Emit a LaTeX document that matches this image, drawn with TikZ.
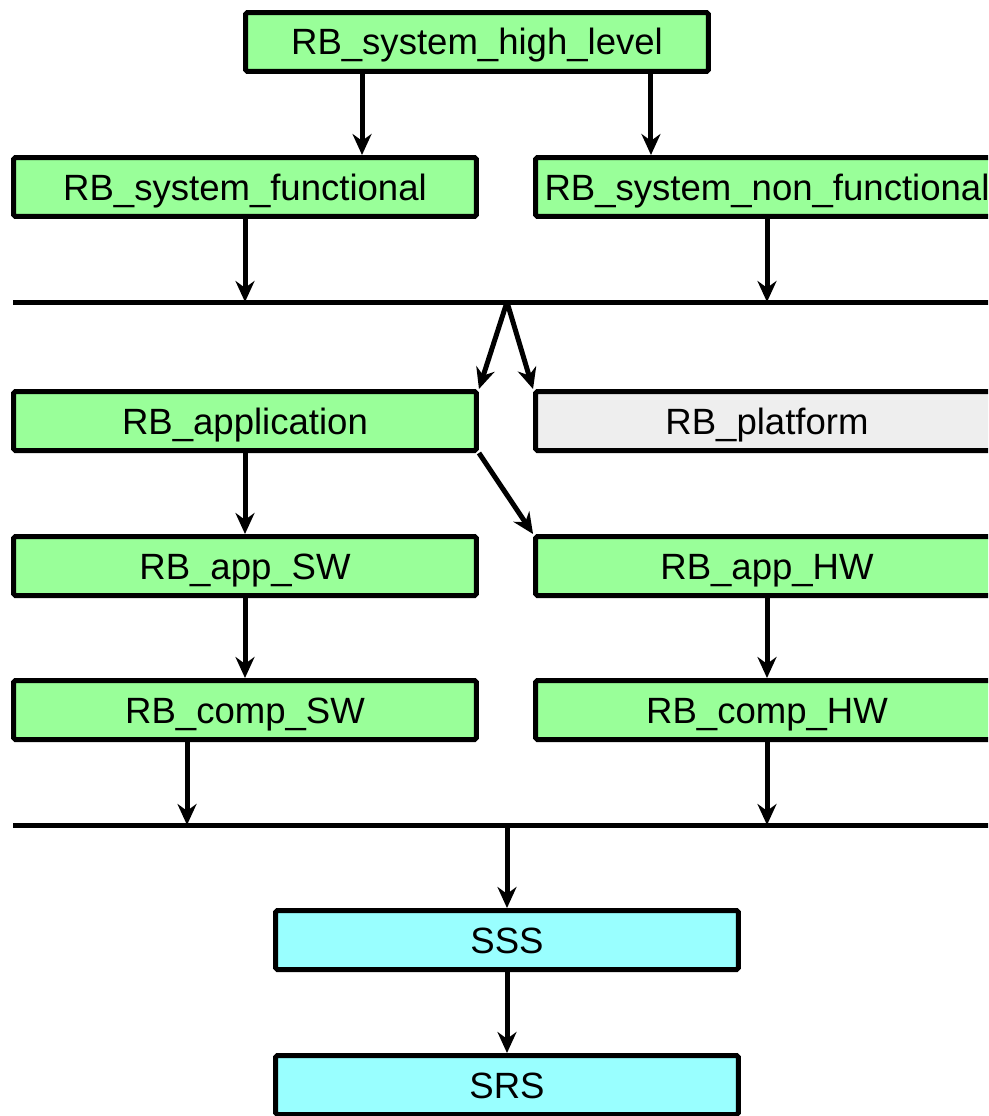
\documentclass[tikz,border=0pt]{standalone}
\usepackage{fontspec}
\setmainfont{Liberation Sans}
\usetikzlibrary{arrows.meta}
\usetikzlibrary{positioning}

\definecolor{reqgreen}{HTML}{99FF99}
\definecolor{reqgray}{HTML}{EEEEEE}
\definecolor{reqcyan}{HTML}{99FFFF}

\begin{document}
\begin{tikzpicture}[x=0.02cm, y=-0.02cm, line width=0.1cm,
	box/.style={rectangle, draw, rounded corners=1pt, minimum width=9.26cm,
	            minimum height=1.18cm, inner sep=0pt, text height=0.6cm,
	            text depth=0.08cm,
	            font=\fontsize{20.8pt}{24pt}\selectfont}]
	\useasboundingbox (0,0) rectangle (988,1116);
	\clip (0,0) rectangle (988,1116);

	\begin{scope}[every node/.style={box, fill=reqgreen}]
		\node (high) at (477,42) {RB\_system\_high\_level};
		\node (func) at (245,187) {RB\_system\_functional};
		\node (nonf) at (767,187) {RB\_system\_non\_functional};
		\node (app) at (245,421) {RB\_application};
		\node[fill=reqgray] (plat) at (767,421) {RB\_platform};
		\node (appsw) at (245,566) {RB\_app\_SW};
		\node (apphw) at (767,566) {RB\_app\_HW};
		\node (compsw) at (245,710) {RB\_comp\_SW};
		\node (comphw) at (767,710) {RB\_comp\_HW};
		\node[fill=reqcyan] (sss) at (507,940) {SSS};
		\node[fill=reqcyan] (srs) at (507,1085) {SRS};
	\end{scope}

	% bus lines
	\coordinate (busA) at (13,302);
	\coordinate (busAr) at (1000,302);
	\coordinate (forkA) at (507,302);
	\coordinate (busB) at (13,825);
	\coordinate (busBr) at (1000,825);
	\coordinate (forkB) at (507,825);
	\draw (busA) -- (busAr);
	\draw (busB) -- (busBr);

	\begin{scope}[>={Stealth[length=0.42cm, width=0.38cm]},
	              every edge/.style={draw=black, ->}]
		\path ([xshift=-2.3cm]high.south) edge ([xshift=-2.3cm]high.south |- func.north);
		\path ([xshift=3.48cm]high.south) edge ([xshift=3.48cm]high.south |- nonf.north);
		\path (func) edge (func.south |- busA);
		\path (nonf) edge (nonf.south |- busA);
		\path (forkA) edge (app.north east);
		\path (forkA) edge (plat.north west);
		\path (app) edge (appsw);
		\path (app.south east) edge (apphw.north west);
		\path (appsw) edge (compsw);
		\path (apphw) edge (comphw);
		\path ([xshift=-1.16cm]compsw.south) edge ([xshift=-1.16cm]compsw.south |- busB);
		\path (comphw) edge (comphw.south |- busB);
		\path (forkB) edge (sss);
		\path (sss) edge (srs);
	\end{scope}
\end{tikzpicture}
\end{document}
